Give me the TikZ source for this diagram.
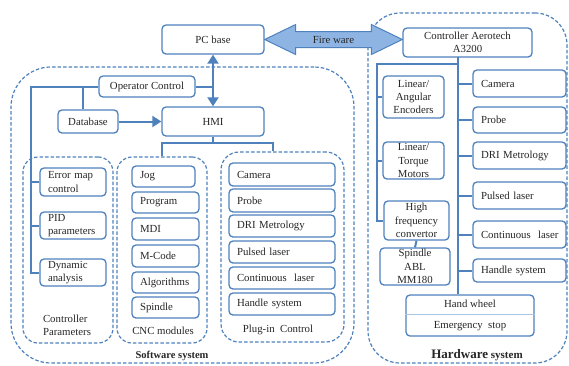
\documentclass[tikz,border=0pt]{standalone}
\usepackage{fontspec}
\setmainfont{Liberation Serif}
\usetikzlibrary{arrows.meta,calc}
\definecolor{bc}{RGB}{79,129,189}
\definecolor{af}{RGB}{141,180,227}
\definecolor{lc}{RGB}{170,196,230}
\newcommand\myfs{\fontsize{10.8}{13.3}\selectfont}
\tikzset{
 box/.style={draw=bc, line width=1.3pt, rounded corners=4pt, inner sep=1pt, align=center, font=\myfs, fill=white, text=black!85},
 lbox/.style={box, align=left, inner xsep=8pt},
 dbox/.style={draw=bc, line width=1.2pt, dash pattern=on 3.5pt off 2pt, inner sep=0pt},
 con/.style={draw=bc, line width=2pt},
 lab/.style={font=\myfs, text=black!85, inner sep=0pt},
}
\begin{document}
\begin{tikzpicture}[x=1pt,y=-1pt]
\useasboundingbox (0,0) rectangle (569,365);
% containers
\node[dbox, rounded corners=40pt, minimum width=343pt, minimum height=296pt] (sw) at (182.5,215) {};
\node[dbox, rounded corners=32pt, minimum width=199pt, minimum height=350pt] (hwbox) at (467.5,188) {};
\node[dbox, rounded corners=15pt, minimum width=90pt, minimum height=186pt] (cp) at (68,250) {};
\node[dbox, rounded corners=15pt, minimum width=90pt, minimum height=186pt] (cnc) at (162,250) {};
\node[dbox, rounded corners=18pt, minimum width=123pt, minimum height=190pt] (plug) at (282.5,247) {};
% top nodes
\node[box, minimum width=102pt, minimum height=29pt] (pc) at (213,39.5) {PC base};
\node[box, minimum width=129pt, minimum height=29pt, inner ysep=0pt] (ctrl) at (467.5,42.5) {Controller Aerotech\\A3200};
\node[box, minimum width=96pt, minimum height=21pt] (opc) at (147,86.5) {Operator Control};
\node[box, minimum width=60pt, minimum height=23pt] (db) at (88,121.5) {Database};
\node[box, minimum width=102pt, minimum height=29pt] (hmi) at (213,121.5) {HMI};
% controller parameters
\node[lbox, text width=50pt, minimum height=28pt, inner ysep=0pt] (em) at (73,182) {Error map\\control};
\node[lbox, text width=50pt, minimum height=27pt, inner ysep=0pt] (pid) at (73,225.5) {PID\\parameters};
\node[lbox, text width=50pt, minimum height=27pt, inner ysep=0pt] (dyn) at (73,272.5) {Dynamic\\analysis};
\node[lab, align=left] (cpl) at (67,325) {Controller\\Parameters};
% CNC modules
\node[lbox, text width=47pt, minimum height=21pt] (jog) at (163.5,176.5) {Jog};
\node[lbox, text width=51pt, minimum height=21pt] (prog) at (165.5,202.5) {Program};
\node[lbox, text width=51pt, minimum height=22pt] (mdi) at (165.5,229) {MDI};
\node[lbox, text width=51pt, minimum height=22pt] (mcode) at (165.5,256) {M-Code};
\node[lbox, text width=51pt, minimum height=21pt] (alg) at (165.5,282.5) {Algorithms};
\node[lbox, text width=51pt, minimum height=21pt] (spin) at (165.5,307.5) {Spindle};
\node[lab] (cncl) at (163,331) {CNC modules};
% plug-in control
\node[lbox, text width=90pt, minimum height=23pt] (pcam) at (282,174.5) {Camera};
\node[lbox, text width=90pt, minimum height=23pt] (pprobe) at (282,200.5) {Probe};
\node[lbox, text width=90pt, minimum height=22pt] (pdri) at (282,226) {DRI Metrology};
\node[lbox, text width=90pt, minimum height=22pt] (ppul) at (282,252) {Pulsed laser};
\node[lbox, text width=90pt, minimum height=22pt] (pcont) at (282,278) {Continuous~~laser};
\node[lbox, text width=90pt, minimum height=22pt] (phand) at (282,304) {Handle system};
\node[lab] (plugl) at (278,330) {Plug-in~~Control};
\node[lab, font=\bfseries\fontsize{10.5}{12}\selectfont] (swl) at (172,356) {Software system};
% hardware left
\node[box, minimum width=61pt, minimum height=42pt, inner ysep=0pt] (la) at (413.5,97) {Linear/\\Angular\\Encoders};
\node[box, minimum width=61pt, minimum height=37pt, inner ysep=0pt] (lt) at (413.5,160.5) {Linear/\\Torque\\Motors};
\node[box, minimum width=65pt, minimum height=39pt, inner ysep=0pt] (hf) at (416.5,220.5) {High\\frequency\\convertor};
\node[box, minimum width=70pt, minimum height=37pt, inner ysep=0pt] (sp) at (415,266.5) {Spindle\\ABL\\MM180};
% hardware right
\node[lbox, text width=77pt, minimum height=27pt] (hcam) at (519.5,83.5) {Camera};
\node[lbox, text width=77pt, minimum height=26pt] (hprobe) at (519.5,120) {Probe};
\node[lbox, text width=77pt, minimum height=27pt] (hdri) at (519.5,155.5) {DRI Metrology};
\node[lbox, text width=77pt, minimum height=27pt] (hpul) at (519.5,195.5) {Pulsed laser};
\node[lbox, text width=77pt, minimum height=27pt] (hcont) at (519.5,234.5) {Continuous~~laser};
\node[lbox, text width=77pt, minimum height=23pt] (hhand) at (519.5,270.5) {Handle system};
\node[box, minimum width=128pt, minimum height=41pt] (hw) at (470,315.5) {};
\draw[lc, line width=1pt] (hw.west |- 0,314) -- (hw.east |- 0,314);
\node[lab] (hwl) at (470,304) {Hand wheel};
\node[lab] (esl) at (470,326) {Emergency~~stop};
\node[lab] (hwsl) at (477,355) {{\bfseries\fontsize{13}{15}\selectfont Hardware}{\bfseries\fontsize{11}{13}\selectfont\ system}};
% fire ware arrow
\coordinate (fl) at (pc.east);
\coordinate (fr) at (ctrl.west |- pc.east);
\draw[bc, line width=1pt, fill=af, line join=miter]
  (fl) -- ($(fl)+(31,-15)$) -- ($(fl)+(31,-8)$) -- ($(fr)+(-31,-8)$) -- ($(fr)+(-31,-15)$)
  -- (fr) -- ($(fr)+(-31,15)$) -- ($(fr)+(-31,8)$) -- ($(fl)+(31,8)$) -- ($(fl)+(31,15)$) -- cycle;
\node[lab] (fw) at ($(fl)!0.5!(fr)$) {Fire ware};
% software connectors
\draw[con, {Triangle[length=9pt,width=11pt]}-{Triangle[length=9pt,width=11pt]}] (pc.south) -- (hmi.north);
\coordinate (oj) at (pc.south |- opc.east);
\draw[con] (opc.east) -- (oj);
\coordinate (cl) at (31,86.5);
\draw[con] (opc.west) -- (cl) |- (dyn.west);
\draw[con] (cl |- em.west) -- (em.west);
\draw[con] (cl |- pid.west) -- (pid.west);
\coordinate (dbj) at (83,86.5);
\draw[con] (dbj) -- (dbj |- db.north);
\draw[con, -{Triangle[length=9pt,width=11pt]}] (db.east) -- (hmi.west);
\coordinate (hj) at (213,143);
\draw[con] (hmi.south) -- (hj);
\draw[con] (cnc.north) |- (hj) -| ($(plug.north)+(-10,0)$);
% hardware connectors
\coordinate (tr) at (458,57);
\draw[con] (tr) -- (tr |- hw.north);
\coordinate (bj) at (458,64);
\coordinate (lj) at (377,64);
\draw[con] (bj) -- (lj) |- (hf.west);
\draw[con] (lj |- la.west) -- (la.west);
\draw[con] (lj |- lt.west) -- (lt.west);
\draw[con] (hf.south) -- (sp.north);
\foreach \n in {hcam,hprobe,hdri,hpul,hcont,hhand}
  \draw[con] (tr |- \n.west) -- (\n.west);
\end{tikzpicture}
\end{document}
